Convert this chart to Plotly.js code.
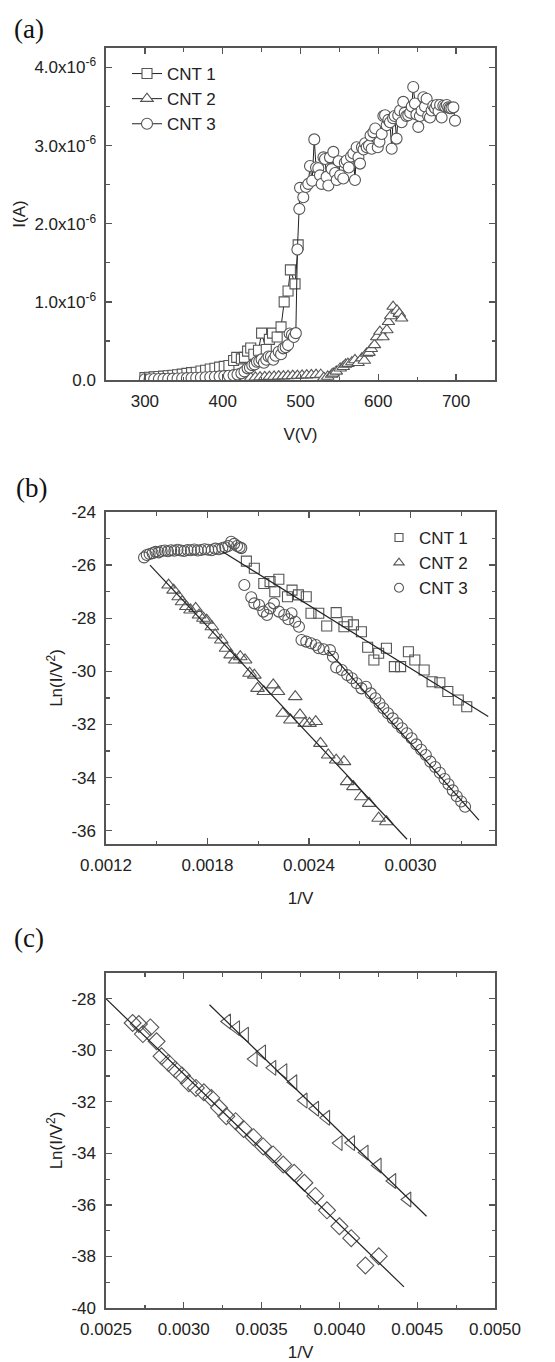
<!DOCTYPE html>
<html>
<head>
<meta charset="utf-8">
<script src="https://cdn.plot.ly/plotly-3.0.1.min.js"></script>
<style>html,body{margin:0;padding:0;background:#fff;}#chart{width:555px;height:1362px;}</style>
</head>
<body>
<div id="chart"></div>
<script>
// ---------- Panel (a): I (in units of 1e-6 A) vs V ----------
const cnt1V = [300,306,312,318,324,330,336,342,348,354,360,366,372,378,384,390,396,402,408,414,418,424,428,432,436,440,446,450,456,460,464,470,475,479,484,487,493,497];
const cnt1I = [0.03,0.035,0.04,0.045,0.05,0.055,0.06,0.068,0.075,0.085,0.095,0.1,0.115,0.125,0.14,0.15,0.165,0.175,0.185,0.25,0.29,0.27,0.29,0.37,0.41,0.33,0.38,0.60,0.39,0.52,0.60,0.55,0.68,1.0,1.14,1.41,1.23,1.73];

const cnt2V = [340,346,352,358,364,370,376,382,388,394,400,406,412,418,424,430,436,442,448,454,460,466,472,478,484,490,496,502,508,514,520,526,530,535,540,542,546,551,555,558,561,566,570,574,579,582,585,588,591,595,598,602,606,611,613,616,619,624,627,630];
const cnt2I = [0.005,0.006,0.006,0.007,0.008,0.01,0.011,0.012,0.014,0.015,0.017,0.019,0.021,0.024,0.026,0.029,0.031,0.034,0.037,0.04,0.043,0.045,0.048,0.05,0.052,0.055,0.057,0.06,0.062,0.064,0.067,0.07,0.03,0.045,0.07,0.085,0.11,0.15,0.17,0.2,0.21,0.23,0.256,0.22,0.28,0.25,0.34,0.35,0.40,0.45,0.55,0.62,0.55,0.64,0.745,0.82,0.94,0.89,0.85,0.79];

const cnt3V = [300,306,312,318,324,330,336,342,348,354,360,366,372,378,384,390,396,402,408,414,419,424,428,432,435,438,441,444,447,450,453,456,459,462,465,468,472,475,478,481,484,486,489,491.5,494,496,498.5,
  499.4,503.6,507,510,512.2,515,517.7,520,522.9,525,527.2,529.5,531.5,533.5,535.8,537.9,540,542.2,544.5,546.5,549,551,555,557,559.3,562,565,567.9,570,572.2,574.5,576.5,579,581,583,585.1,588,590,591.5,593.7,596,599.3,601.5,604.4,606.5,608.7,610.8,613,615,617.2,619,621,623.5,625.6,628,630,632.1,634,636,638.5,641,643,644.9,647.1,649,651.4,653.5,655.7,658,660,662.1,664,666.4,668.5,670.7,673,675,677.5,679.5,681.4,683.6,686,688,690,692,694,696.5,698.6];
const cnt3I = [0.01,0.01,0.012,0.013,0.015,0.016,0.018,0.02,0.022,0.024,0.026,0.029,0.032,0.035,0.038,0.042,0.046,0.05,0.055,0.062,0.07,0.085,0.11,0.149,0.16,0.19,0.2,0.234,0.24,0.264,0.22,0.26,0.3,0.298,0.26,0.31,0.362,0.33,0.405,0.42,0.447,0.596,0.58,0.55,0.60,1.67,2.19,
  2.46,2.34,2.47,2.51,2.74,2.55,3.08,2.72,2.71,2.62,2.51,2.85,2.83,2.60,2.49,2.85,2.70,2.92,2.65,2.56,2.80,2.62,2.58,2.78,2.81,2.72,2.86,2.90,2.56,2.98,2.85,2.77,2.98,2.95,3.03,2.98,3.00,3.13,2.96,3.17,3.22,2.98,3.05,3.15,3.38,3.39,3.26,3.33,3.30,2.96,3.35,3.38,3.09,3.39,3.45,3.30,3.56,3.42,3.38,3.39,3.42,3.50,3.75,3.54,3.40,3.24,3.38,3.45,3.62,3.50,3.60,3.38,3.36,3.45,3.51,3.48,3.52,3.44,3.52,3.36,3.51,3.50,3.52,3.49,3.48,3.48,3.49,3.32];

const aTickVals = [0,1,2,3,4];
const aTickText = ['0.0','1.0x10<sup>-6</sup>','2.0x10<sup>-6</sup>','3.0x10<sup>-6</sup>','4.0x10<sup>-6</sup>'];
const seriesNames = ['CNT 1','CNT 2','CNT 3'];

// ---------- Panel (b): Ln(I/V^2) vs 1/V ----------
const b1X = [0.002030,0.002077,0.002133,0.002170,0.002198,0.002222,0.002273,0.002300,0.002338,0.002384,0.002412,0.002458,0.002505,0.002561,0.002607,0.002626,0.002663,0.002710,0.002747,0.002784,0.002812,0.002858,0.002905,0.002942,0.002988,0.003026,0.003081,0.003128,0.003174,0.003221,0.003283,0.003333];
const b1Y = [-25.85,-26.12,-26.69,-26.62,-27.0,-26.53,-27.19,-26.94,-27.12,-27.19,-27.81,-27.81,-28.29,-27.79,-28.32,-28.13,-28.25,-28.51,-29.09,-29.57,-29.32,-29.13,-29.82,-29.82,-29.26,-29.57,-29.95,-30.39,-30.43,-30.76,-31.08,-31.33];

const b2X = [0.001570,0.001600,0.001630,0.001650,0.001675,0.001700,0.001730,0.001750,0.001776,0.001795,0.001826,0.001845,0.001882,0.001910,0.001937,0.001965,0.001994,0.002022,0.002049,0.002077,0.002096,0.002133,0.002189,0.002217,0.002245,0.002291,0.002319,0.002347,0.002375,0.002403,0.002440,0.002468,0.002514,0.002561,0.002607,0.002626,0.002663,0.002710,0.002756,0.002812,0.002858];
const b2Y = [-26.75,-26.94,-27.19,-27.38,-27.56,-27.69,-27.63,-27.88,-28.0,-28.07,-28.32,-28.63,-28.82,-29.13,-29.38,-29.57,-29.45,-29.57,-30.07,-30.14,-30.64,-30.76,-30.51,-30.76,-31.58,-31.83,-30.95,-31.64,-31.96,-31.96,-31.89,-32.71,-33.15,-33.34,-33.40,-34.15,-34.34,-34.72,-34.97,-35.53,-35.66];

const b3X = [0.001425,0.001441,0.001458,0.001476,0.001493,0.001511,0.001529,0.001548,0.001566,0.001585,0.001604,0.001623,0.001643,0.001662,0.001682,0.001702,0.001722,0.001742,0.001762,0.001783,0.001804,0.001825,0.001846,0.001867,0.001888,0.001905,0.001923,0.001940,0.001958,0.001975,0.001990,0.002000,
  0.002018,0.002059,0.002077,0.002105,0.002130,0.002152,0.002170,0.002193,0.002222,0.002254,0.002278,0.002297,0.002319,0.002341,0.002356,0.002384,0.002412,0.002440,0.002458,0.002486,0.002524,0.002542,
  0.002561,0.002594,0.002626,0.002654,0.002682,0.002710,0.002737,0.002765,0.002793,0.002817,0.002840,0.002867,0.002895,0.002923,0.002950,0.002979,0.003007,0.003035,0.003063,0.003091,0.003118,0.003146,0.003174,0.003202,0.003225,0.003250,0.003274,0.003300,0.003323];
const b3Y = [-25.71,-25.62,-25.58,-25.55,-25.50,-25.52,-25.47,-25.45,-25.48,-25.44,-25.46,-25.42,-25.45,-25.47,-25.43,-25.44,-25.41,-25.45,-25.43,-25.40,-25.42,-25.44,-25.38,-25.40,-25.36,-25.33,-25.28,-25.12,-25.20,-25.28,-25.33,-25.36,
  -26.75,-27.21,-27.44,-27.50,-27.75,-27.88,-27.63,-27.44,-27.75,-27.88,-28.04,-27.81,-28.13,-28.32,-28.82,-28.88,-28.94,-29.01,-29.13,-29.17,-29.20,-29.45,
  -29.85,-29.95,-30.14,-30.26,-30.45,-30.64,-30.58,-30.83,-31.01,-31.20,-31.39,-31.58,-31.77,-31.96,-32.14,-32.33,-32.52,-32.75,-32.95,-33.15,-33.40,-33.60,-33.82,-34.05,-34.25,-34.48,-34.70,-34.90,-35.10];

const fit1X = [0.00189,0.00346], fit1Y = [-25.5,-31.7];
const fit2X = [0.00146,0.00298], fit2Y = [-26.0,-36.32];
const fit3X = [0.00251,0.003405], fit3Y = [-29.2,-35.6];

const bTickVals = [-36,-34,-32,-30,-28,-26,-24];
const bTickText = ['-36','-34','-32','-30','-28','-26','-24'];

// ---------- Panel (c) ----------
const cDX = [0.002671,0.002711,0.002737,0.002785,0.002825,0.002857,0.002902,0.002946,0.002988,0.003032,0.003078,0.003129,0.003177,0.003227,0.003273,0.003333,0.003384,0.003448,0.003510,0.003574,0.003639,0.003709,0.003775,0.003845,0.003920,0.004000,0.004076,0.004167,0.004253];
const cDY = [-28.94,-28.98,-29.37,-29.11,-29.65,-30.23,-30.49,-30.75,-30.98,-31.28,-31.46,-31.63,-31.85,-32.23,-32.56,-32.75,-33.05,-33.37,-33.73,-34.04,-34.43,-34.75,-35.14,-35.65,-36.21,-36.83,-37.29,-38.35,-37.99];
const cTX = [0.003279,0.003337,0.003394,0.003450,0.003504,0.003570,0.003641,0.003705,0.003771,0.003845,0.003916,0.003996,0.004076,0.004163,0.004247,0.004341,0.004438];
const cTY = [-28.88,-29.14,-29.39,-30.34,-30.08,-30.68,-30.81,-31.24,-31.95,-32.27,-32.62,-33.60,-33.60,-33.97,-34.47,-35.07,-35.79];
const fitDX = [0.0025,0.004415], fitDY = [-28.0,-39.18];
const fitTX = [0.003165,0.00456], fitTY = [-28.23,-36.44];

const cTickVals = [-40,-38,-36,-34,-32,-30,-28];
const cTickText = ['-40','-38','-36','-34','-32','-30','-28'];

// ---------- styles ----------
const MK = '#555';
const LN = '#222';
const AX = '#555';
const FONT = 'Liberation Sans, Arial, Helvetica, sans-serif';

function mk(symbol, size, fill) {
  return {symbol: symbol, size: size, color: fill || 'rgba(0,0,0,0)', line: {color: MK, width: 1.1}};
}

const traces = [
  // (a)
  {x: cnt1V, y: cnt1I, name: seriesNames[0], mode: 'lines+markers', xaxis: 'x', yaxis: 'y', legend: 'legend',
   line: {color: LN, width: 1}, marker: mk('square', 10, '#fff')},
  {x: cnt2V, y: cnt2I, name: seriesNames[1], mode: 'lines+markers', xaxis: 'x', yaxis: 'y', legend: 'legend',
   line: {color: LN, width: 1}, marker: mk('triangle-up', 11, '#fff')},
  {x: cnt3V, y: cnt3I, name: seriesNames[2], mode: 'lines+markers', xaxis: 'x', yaxis: 'y', legend: 'legend',
   line: {color: LN, width: 1}, marker: mk('circle', 11, '#fff')},
  // (b)
  {x: b1X, y: b1Y, mode: 'markers', xaxis: 'x2', yaxis: 'y2', showlegend: false, marker: mk('square', 10)},
  {x: b2X, y: b2Y, mode: 'markers', xaxis: 'x2', yaxis: 'y2', showlegend: false, marker: mk('triangle-up', 12)},
  {x: b3X, y: b3Y, mode: 'markers', xaxis: 'x2', yaxis: 'y2', showlegend: false, marker: mk('circle', 11)},
  {x: fit1X, y: fit1Y, mode: 'lines', xaxis: 'x2', yaxis: 'y2', showlegend: false, line: {color: LN, width: 1.2}},
  {x: fit2X, y: fit2Y, mode: 'lines', xaxis: 'x2', yaxis: 'y2', showlegend: false, line: {color: LN, width: 1.2}},
  {x: fit3X, y: fit3Y, mode: 'lines', xaxis: 'x2', yaxis: 'y2', showlegend: false, line: {color: LN, width: 1.2}},
  {x: [null], y: [null], name: seriesNames[0], mode: 'markers', xaxis: 'x2', yaxis: 'y2', legend: 'legend2', marker: mk('square', 8)},
  {x: [null], y: [null], name: seriesNames[1], mode: 'markers', xaxis: 'x2', yaxis: 'y2', legend: 'legend2', marker: mk('triangle-up', 9)},
  {x: [null], y: [null], name: seriesNames[2], mode: 'markers', xaxis: 'x2', yaxis: 'y2', legend: 'legend2', marker: mk('circle', 9)},
  // (c)
  {x: cDX, y: cDY, mode: 'markers', xaxis: 'x3', yaxis: 'y3', showlegend: false, marker: mk('diamond', 13)},
  {x: cTX, y: cTY, mode: 'markers', xaxis: 'x3', yaxis: 'y3', showlegend: false, marker: mk('triangle-left', 13)},
  {x: fitDX, y: fitDY, mode: 'lines', xaxis: 'x3', yaxis: 'y3', showlegend: false, line: {color: LN, width: 1.2}},
  {x: fitTX, y: fitTY, mode: 'lines', xaxis: 'x3', yaxis: 'y3', showlegend: false, line: {color: LN, width: 1.2}}
];

function axis(extra) {
  const base = {
    showline: true, linecolor: AX, linewidth: 1.6, mirror: 'ticks',
    ticks: 'inside', ticklen: 6, tickwidth: 1.3, tickcolor: AX,
    showgrid: false, zeroline: false, automargin: false,
    ticklabelstandoff: 5,
    tickfont: {family: FONT, size: 17, color: '#222'}
  };
  return Object.assign(base, extra);
}
function minor(d) { return {dtick: d, ticks: 'inside', ticklen: 3.5, tickwidth: 1.2, tickcolor: AX, showgrid: false}; }
function ttl(t, s) { return {text: t, standoff: s, font: {family: FONT, size: 17, color: '#222'}}; }

const xd = [106/555, 495/555];
const layout = {
  width: 555, height: 1362,
  margin: {l: 0, r: 0, t: 0, b: 0},
  paper_bgcolor: '#fff', plot_bgcolor: '#fff',
  font: {family: FONT, size: 17, color: '#222'},
  xaxis: axis({domain: xd, anchor: 'y', range: [250, 750], tick0: 0, dtick: 100, minor: minor(50), title: ttl('V(V)', 18)}),
  yaxis: axis({domain: [1 - 380/1362, 1 - 48/1362], anchor: 'x', range: [0, 4.25], tickvals: aTickVals, ticktext: aTickText, minor: minor(0.5), title: ttl('I(A)', 4)}),
  xaxis2: axis({domain: xd, anchor: 'y2', range: [0.0012, 0.0035], tick0: 0.0012, dtick: 0.0006, tickformat: '.4f', minor: minor(0.0003), title: ttl('1/V', 18)}),
  yaxis2: axis({domain: [1 - 844/1362, 1 - 512/1362], anchor: 'x2', range: [-36.5, -24], tickvals: bTickVals, ticktext: bTickText, minor: minor(1), title: ttl('Ln(I/V<sup>2</sup>)', 4)}),
  xaxis3: axis({domain: xd, anchor: 'y3', range: [0.0025, 0.0050], tick0: 0, dtick: 0.0005, tickformat: '.4f', minor: minor(0.00025), title: ttl('1/V', 22)}),
  yaxis3: axis({domain: [1 - 1308/1362, 1 - 973/1362], anchor: 'x3', range: [-40, -27], tickvals: cTickVals, ticktext: cTickText, minor: minor(1), title: ttl('Ln(I/V<sup>2</sup>)', 4)}),
  legend: {x: 127/555, y: 1 - 56/1362, xanchor: 'left', yanchor: 'top', bgcolor: 'rgba(0,0,0,0)', font: {family: FONT, size: 17, color: '#222'}, tracegroupgap: 0},
  legend2: {x: 379/555, y: 1 - 520/1362, xanchor: 'left', yanchor: 'top', bgcolor: 'rgba(0,0,0,0)', font: {family: FONT, size: 17, color: '#222'}},
  annotations: [
    {text: '(a)', xref: 'paper', yref: 'paper', x: 12/555, y: 1 - 29/1362, xanchor: 'left', yanchor: 'middle', showarrow: false, font: {family: 'Liberation Serif, Times New Roman, serif', size: 27, color: '#111'}},
    {text: '(b)', xref: 'paper', yref: 'paper', x: 14/555, y: 1 - 488/1362, xanchor: 'left', yanchor: 'middle', showarrow: false, font: {family: 'Liberation Serif, Times New Roman, serif', size: 27, color: '#111'}},
    {text: '(c)', xref: 'paper', yref: 'paper', x: 12/555, y: 1 - 938/1362, xanchor: 'left', yanchor: 'middle', showarrow: false, font: {family: 'Liberation Serif, Times New Roman, serif', size: 27, color: '#111'}}
  ]
};

Plotly.newPlot('chart', traces, layout, {displayModeBar: false, staticPlot: true});
</script>
</body>
</html>
